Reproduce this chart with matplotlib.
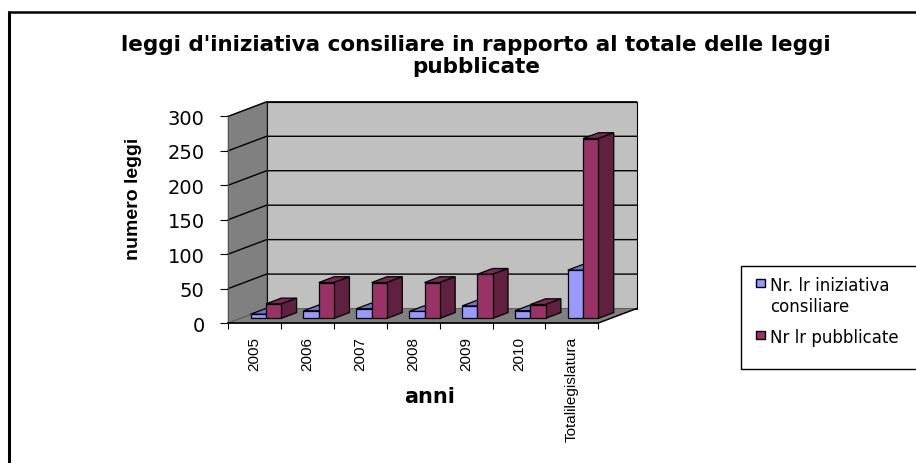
import matplotlib
matplotlib.use("Agg")
import matplotlib.pyplot as plt
from matplotlib.lines import Line2D
from matplotlib.patches import Polygon, Rectangle

plt.rcParams['font.family'] = ['Liberation Sans', 'DejaVu Sans']

W, H = 916, 464

# data
anni = ['2005', '2006', '2007', '2008', '2009', '2010', 'Totalilegislatura']
iniziativa = [6, 11, 14, 10, 18, 11, 70]
pubblicate = [21, 52, 52, 52, 64, 20, 261]
yticks = [0, 50, 100, 150, 200, 250, 300]

serie_nomi = ['Nr. lr iniziativa\nconsiliare', 'Nr lr pubblicate']
titolo = "leggi d'iniziativa consiliare in rapporto al totale delle leggi\npubblicate"

# 3d look: how far the back wall is shifted, in data units
DX = 0.725
DY = 21
BLU = ('#9999FF', '#7373BF', '#5C5C99')
VIOLA = ('#993366', '#7A2952', '#602040')
LARGO = 'DejaVu Sans'  # the original text is stretched sideways, this one is wider


def fx(px):
    return px / W


def fy(py):
    return 1 - py / H


def sh(x, y, d):
    return (x + d * DX, y + d * DY)


def poly(ax, pts, col, ec='black', lw=0.9, z=2):
    ax.add_patch(Polygon(pts, closed=True, facecolor=col, edgecolor=ec,
                         linewidth=lw, clip_on=False, zorder=z))


def box(ax, x0, x1, h, cols):
    d0, d1 = 0.32, 0.72
    poly(ax, [sh(x0, h, d0), sh(x1, h, d0), sh(x1, h, d1), sh(x0, h, d1)], cols[1], z=4)
    poly(ax, [sh(x1, 0, d0), sh(x1, 0, d1), sh(x1, h, d1), sh(x1, h, d0)], cols[2], z=4)
    poly(ax, [sh(x0, 0, d0), sh(x1, 0, d0), sh(x1, h, d0), sh(x0, h, d0)], cols[0], z=4)


fig = plt.figure(figsize=(W / 100, H / 100), dpi=100)
ax = fig.add_axes([fx(228.3), fy(324), (598.3 - 228.3) / W, (324 - 117.3) / H])
ax.patch.set_visible(False)
n = len(anni)
ax.set_xlim(0, n)
ax.set_ylim(0, yticks[-1])

# walls and floor
top = yticks[-1]
poly(ax, [sh(0, 0, 1), sh(n, 0, 1), sh(n, top, 1), sh(0, top, 1)], '#C0C0C0', lw=0.8, z=1)
poly(ax, [sh(0, 0, 0), sh(0, 0, 1), sh(0, top, 1), sh(0, top, 0)], '#808080', ec='#606060', lw=0.8, z=1)
poly(ax, [sh(0, 0, 0), sh(n, 0, 0), sh(n, 0, 1), sh(0, 0, 1)], '#808080', ec='#606060', lw=0.8, z=1)

for t in yticks[1:]:
    xs, ys = zip(sh(0, t, 0), sh(0, t, 1), sh(n, t, 1))
    ax.plot(xs, ys, color='black', lw=1.0, clip_on=False, zorder=2)
xs, ys = zip(sh(n, 0, 0), sh(n, 0, 1))
ax.plot(xs, ys, color='black', lw=1.0, clip_on=False, zorder=2)

for i in range(n):
    box(ax, i + 0.19, i + 0.48, iniziativa[i], BLU)
    box(ax, i + 0.48, i + 0.77, pubblicate[i], VIOLA)

for s in ['top', 'right']:
    ax.spines[s].set_visible(False)
ax.spines['left'].set_color('#555555')
ax.spines['bottom'].set_linewidth(1.2)
ax.spines['bottom'].set_zorder(6)

ax.set_yticks(yticks)
ax.set_yticklabels(yticks, family=LARGO)
ax.tick_params(axis='y', length=6, width=0.8, labelsize=14, pad=11)
ax.set_xticks(range(n + 1))
ax.set_xticklabels([])
ax.tick_params(axis='x', which='major', length=4, width=0.8)
ax.set_xticks([i + 0.5 for i in range(n)], minor=True)
ax.set_xticklabels(anni, minor=True, rotation=90, fontsize=11)
ax.tick_params(axis='x', which='minor', length=0, pad=9.5)

# titles
fig.text(fx(476), fy(56), titolo, ha='center', va='center', fontsize=15.5, family=LARGO,
         fontweight='bold', linespacing=1.1)
fig.text(fx(133), fy(199), 'numero leggi', rotation=90, ha='center', va='center',
         fontsize=14, fontweight='bold')
fig.text(fx(430), fy(397), 'anni', ha='center', va='center', fontsize=15, family=LARGO,
         fontweight='bold')

# legend box
fig.add_artist(Rectangle((fx(741), fy(370)), (W + 5 - 741) / W, (370 - 267) / H,
                         transform=fig.transFigure, facecolor='white',
                         edgecolor='black', linewidth=1.0))
for py, col, nome in zip([284, 336], [BLU[0], VIOLA[0]], serie_nomi):
    fig.add_artist(Rectangle((fx(755.5), fy(py + 4)), 9 / W, 8 / H, transform=fig.transFigure,
                             facecolor=col, edgecolor='black', linewidth=1.0))
    fig.text(fx(770), fy(py - 7), nome, ha='left', va='top', fontsize=12, family=LARGO,
             linespacing=1.25)

# frame of the scanned page, only top and left are there
fig.add_artist(Line2D([fx(9), fx(9)], [fy(11.5), 0], color='black', lw=2.2, solid_capstyle='butt'))
fig.add_artist(Line2D([fx(7.5), 1], [fy(12.5), fy(12.5)], color='black', lw=1.8, solid_capstyle='butt'))

fig.savefig('out.png', dpi=100)
